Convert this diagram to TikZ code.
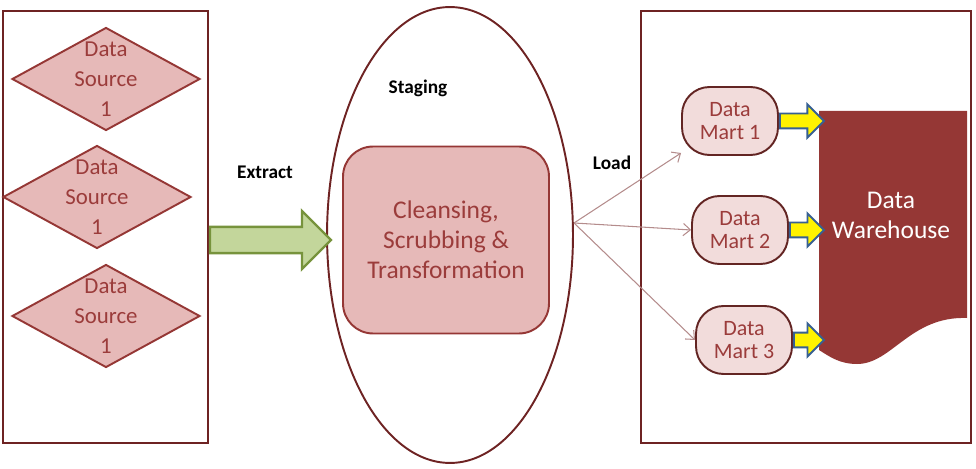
\documentclass[tikz,border=0pt]{standalone}
\usepackage{fontspec}
\setmainfont{Carlito}
\usetikzlibrary{shapes.geometric,shapes.arrows,arrows.meta}
\definecolor{panelline}{HTML}{6E2323}
\definecolor{srcline}{HTML}{953735}
\definecolor{srcfill}{HTML}{E6B9B8}
\definecolor{srctxt}{HTML}{9B3C3B}
\definecolor{martline}{HTML}{632523}
\definecolor{martfill}{HTML}{F2DCDB}
\definecolor{dwfill}{HTML}{953735}
\definecolor{loadcol}{HTML}{B48C8C}
\definecolor{extfill}{HTML}{C3D69B}
\definecolor{extline}{HTML}{77933C}
\definecolor{feedline}{HTML}{376092}
\begin{document}
\begin{tikzpicture}[x=0.02cm, y=-0.02cm, font=\fontsize{14}{17}\selectfont,
    panel/.style={draw=panelline, line width=1.4pt, inner sep=0pt},
    srcshape/.style={diamond, draw=srcline, fill=srcfill, line width=1.1pt, minimum width=3.76cm, minimum height=2.06cm, inner sep=0pt},
    srctext/.style={text=srctxt, align=center, inner sep=0pt, font=\fontsize{13}{17}\selectfont},
    stageell/.style={ellipse, draw=panelline, line width=1.1pt, minimum width=4.92cm, minimum height=9.12cm, inner sep=0pt},
    cleanbox/.style={draw=srcline, fill=srcfill, line width=1.1pt, rounded corners=0.6cm, minimum width=4.12cm, minimum height=3.74cm, align=center, text=srctxt, font=\fontsize{14.5}{17}\selectfont},
    phaselbl/.style={font=\fontsize{11}{13}\selectfont\bfseries},
    martbox/.style={draw=martline, fill=martfill, line width=1.1pt, rounded corners=0.55cm, minimum width=1.92cm, minimum height=1.36cm, align=center, text=srctxt, font=\fontsize{12.5}{13.5}\selectfont, inner sep=0pt},
    extractarrow/.style={single arrow, draw=extline, fill=extfill, line width=1.3pt, inner sep=0.24cm, single arrow head extend=0.32cm, minimum height=2.42cm},
    feedarrow/.style={single arrow, draw=feedline, fill=yellow, line width=1.1pt, inner sep=0.13cm, single arrow head extend=0.18cm},
    loadline/.style={draw=loadcol, line width=0.6pt, -{Straight Barb[length=4pt,width=7pt]}},
    dwtext/.style={text=white, align=center, font=\fontsize{14.5}{17}\selectfont}]
  \useasboundingbox (0,0) rectangle (976,469);
  % source panel
  \node[panel, minimum width=4.1cm, minimum height=8.64cm] (srcpanel) at (105.5,227) {};
  \foreach \srci/\srcx/\srcy in {1/106/79, 2/97/197, 3/106/316} {
    \node[srcshape, label={[srctext, name=srct\srci]center:{Data\\Source\\1}}] (src\srci) at (\srcx,\srcy) {};
  }
  % staging
  \node[stageell] (stage) at (450,235) {};
  \node[cleanbox] (clean) at (446,240) {Cleansing,\\Scrubbing \&\\Transformation};
  \node[phaselbl] (stglbl) at (418,88) {Staging};
  \node[phaselbl] (extlbl) at (265,172) {Extract};
  \node[phaselbl] (loadlbl) at (612,163) {Load};
  \node[extractarrow] (extarr) at (264,240) {};
  % warehouse panel
  \node[panel, minimum width=6.6cm, minimum height=8.64cm] (dwpanel) at (806,227) {};
  \fill[dwfill] (819,111) -- (967,111) -- (967,318) .. controls (910,316) and (892,364) .. (857,364) .. controls (840,364) and (830,357) .. (819,350) -- cycle;
  \node[dwtext] (dw) at (891,215) {Data\\Warehouse};
  \foreach \marti/\mx/\my/\flen in {1/730/121/0.88cm, 2/740/230/0.68cm, 3/744/340/0.6cm} {
    \node[martbox] (dm\marti) at (\mx,\my) {Data\\Mart \marti};
    \node[feedarrow, minimum height=\flen, anchor=tail] (feed\marti) at (dm\marti.east) {};
  }
  \coordinate (loadsrc) at (574,223);
  \draw[loadline] (loadsrc) -- (dm1);
  \draw[loadline] (loadsrc) -- (dm2.west);
  \draw[loadline] (loadsrc) -- (dm3.west);
\end{tikzpicture}
\end{document}
